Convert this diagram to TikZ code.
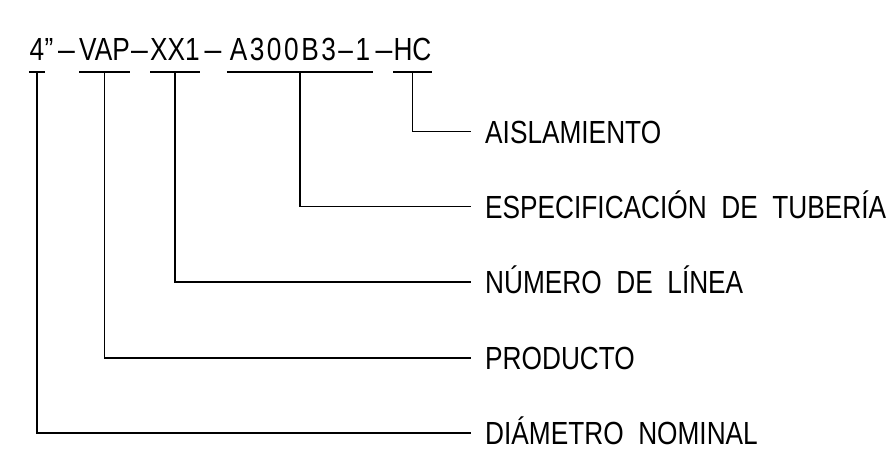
\documentclass[tikz,border=0pt]{standalone}
\usepackage{fontspec}
\setmainfont[FakeStretch=0.82]{Liberation Sans}
\usetikzlibrary{positioning, calc}
\tikzset{
    code/.style={inner sep=0pt, anchor=base, font=\fontsize{32}{38}\selectfont},
    seg/.style={code, minimum width=#1},
    tag/.style={anchor=west, inner xsep=14pt, inner ysep=0pt, text height=23pt,
                text depth=0pt, font=\fontsize{32}{38}\selectfont},
    lead/.style={line width=1.7pt},
}

\begin{document}
\begin{tikzpicture}[x=1pt, y=-1pt]
    \useasboundingbox (0,0) rectangle (892,450);

    % Line code
    \node[seg=16] (c4) at (37,60) {4};
    \node[code] (q1) at (49,60) {”};
    \node[code, xscale=1.15] (s1) at (66.5,60) {–};
    \node[seg=47] (cvap) at (104.5,60) {VAP};
    \node[code, xscale=1.15] (s2) at (139.5,60) {–};
    \node[seg=48] (cxx) at (175,60) {XX1};
    \node[code, xscale=1.15] (s3) at (213,60) {–};
    \node[seg=146] (cspec) at (300,60) {\addfontfeature{LetterSpace=8}A300B3–1};
    \node[code, xscale=1.15] (s4) at (384,60) {–};
    \node[seg=35] (chc) at (412.5,60) {HC};

    % Underlines
    \foreach \n in {c4, cvap, cxx, cspec, chc}
        \draw[lead] ([yshift=-12pt]\n.base west) -- ([yshift=-12pt]\n.base east);

    % Labels
    \node[tag] (ais) at (471,131.5) {AISLAMIENTO};
    \node[tag] (esp) at (471,206.5) {ESPECIFICACIÓN~~DE~~TUBERÍA};
    \node[tag] (num) at (471,282) {NÚMERO~~DE~~LÍNEA};
    \node[tag] (prod) at (471,358) {PRODUCTO};
    \node[tag] (diam) at (471,433) {DIÁMETRO~~NOMINAL};

    % Leaders
    \draw[lead] ([yshift=-12pt]chc.base) |- (ais.west);
    \draw[lead] ([yshift=-12pt]cspec.base) |- (esp.west);
    \draw[lead] ([yshift=-12pt]cxx.base) |- (num.west);
    \draw[lead] ([yshift=-12pt]cvap.base) |- (prod.west);
    \draw[lead] ([yshift=-12pt]c4.base) |- (diam.west);
\end{tikzpicture}
\end{document}
